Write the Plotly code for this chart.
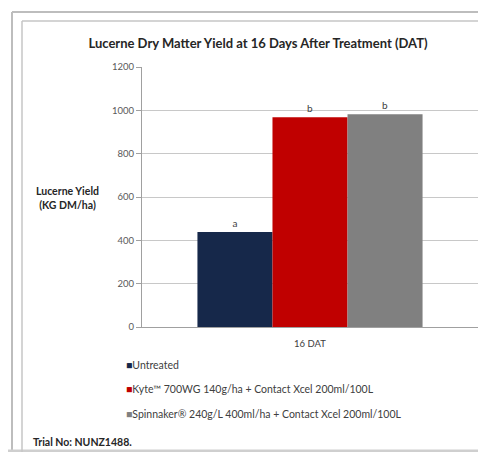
import plotly.graph_objects as go

categories = ["16 DAT"]
series_names = [
    "Untreated",
    "Kyte™ 700WG 140g/ha + Contact Xcel 200ml/100L",
    "Spinnaker® 240g/L 400ml/ha + Contact Xcel 200ml/100L",
]
series_values = [[438], [968], [982]]
series_letters = ["a", "b", "b"]
series_colors = ["#16284a", "#c00000", "#808080"]
y_ticks = [0, 200, 400, 600, 800, 1000, 1200]

# the page body has an 8px margin: lay things out in window pixels and offset
OFF = 8
W, H = 486 - 2 * OFF, 460 - 2 * OFF
PX0, PX1, PY0, PY1 = 142, 478, 67, 327
PW = PX1 - PX0
PH = PY1 - PY0
L = PX0 - OFF
T = PY0 - OFF
R = W - L - PW
B = H - T - PH


def px(x):
    return (x - PX0) / PW


def py(y):
    return (PY1 - y) / PH


FONT = "Lato, Carlito, Open Sans, sans-serif"

fig = go.Figure()
for name, vals, col, let in zip(series_names, series_values, series_colors, series_letters):
    fig.add_trace(go.Bar(
        x=categories, y=vals, name=name, marker=dict(color=col, line=dict(width=0)),
        text=[let], textposition="outside", cliponaxis=False,
        textfont=dict(size=10, color="#404040", family=FONT),
    ))

fig.update_layout(
    width=W, height=H,
    margin=dict(l=L, r=R, t=T, b=B),
    paper_bgcolor="white", plot_bgcolor="white",
    barmode="group", bargap=0.33, bargroupgap=0,
    showlegend=False,
    font=dict(family=FONT, color="#404040", size=10),
    title=dict(text="<b>Lucerne Dry Matter Yield at 16 Days After Treatment (DAT)</b>",
               x=px(258), xref="paper", xanchor="center", y=1 - (43 - OFF) / H, yanchor="middle",
               font=dict(size=13, color="#262626", family=FONT)),
    yaxis=dict(range=[0, 1200], tickvals=y_ticks, showgrid=True, gridcolor="#c8c8c8", gridwidth=1,
               showline=True, linecolor="#a0a0a0", ticks="outside", ticklen=5, tickcolor="#a0a0a0",
               tickfont=dict(size=9.5, color="#595959"), zeroline=False),
    xaxis=dict(showline=True, linecolor="#a0a0a0", ticks="", tickfont=dict(size=9.5, color="#404040"),
               ticklabelstandoff=8),
)

fig.add_annotation(text="<b>Lucerne Yield<br>(KG DM/ha)</b>", x=px(67), y=py(198), xref="paper", yref="paper",
                   showarrow=False, xanchor="center", yanchor="middle", align="center",
                   font=dict(size=10.5, color="#262626"))

leg_y = [365, 389, 414]
for name, col, yy in zip(series_names, series_colors, leg_y):
    fig.add_annotation(text=f"<span style='color:{col}'>■</span>{name}", x=px(124), y=py(yy),
                       xref="paper", yref="paper", showarrow=False, xanchor="left", yanchor="middle",
                       font=dict(size=10.5, color="#404040"))

fig.add_annotation(text="<b>Trial No: NUNZ1488.</b>", x=px(31), y=py(442), xref="paper", yref="paper",
                   showarrow=False, xanchor="left", yanchor="middle", font=dict(size=10.5, color="#262626"))


def hline(x0, x1, y, color, w):
    fig.add_shape(type="line", xref="paper", yref="paper", x0=px(x0), x1=px(x1), y0=py(y), y1=py(y),
                  line=dict(color=color, width=w), layer="below")


def vline(x, y0, y1, color, w):
    fig.add_shape(type="line", xref="paper", yref="paper", x0=px(x), x1=px(x), y0=py(y0), y1=py(y1),
                  line=dict(color=color, width=w), layer="below")


# outer page border
hline(12, 490, 12, "#bdbdbd", 2)
vline(12, 12, 460, "#bdbdbd", 2)
hline(0, 490, 451, "#cfcfcf", 3)
# inner chart border
hline(22, 490, 21, "#c6c6c6", 1.5)
vline(22, 21, 452, "#c6c6c6", 1.5)

fig.write_html("out.html")
